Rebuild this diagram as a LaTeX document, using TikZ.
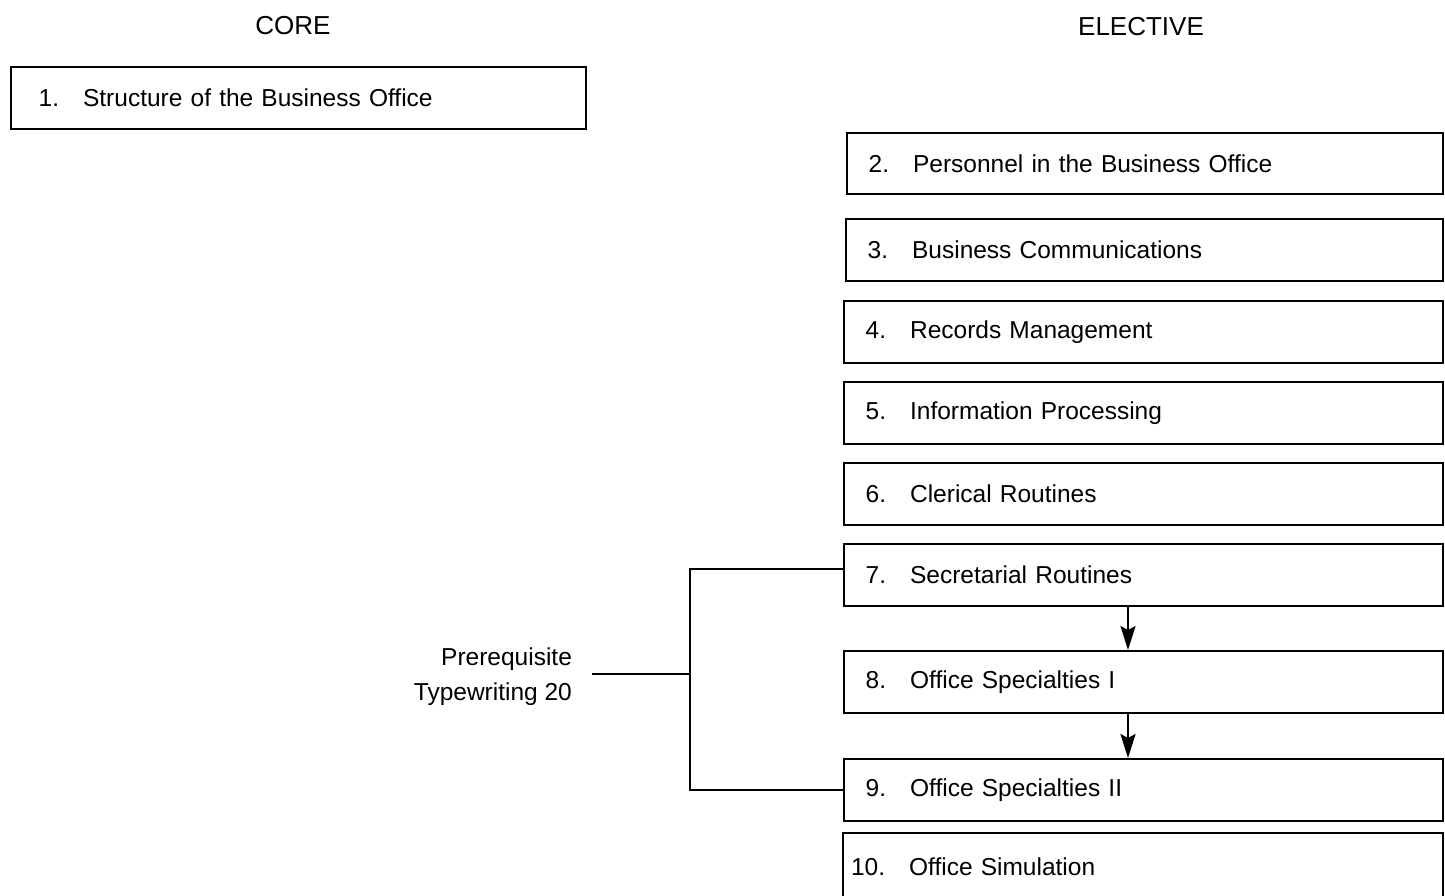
\documentclass[tikz,border=0pt]{standalone}
\usepackage{fontspec}
\setmainfont{Liberation Sans}
\usetikzlibrary{arrows.meta}

% number right-aligned in a fixed field, then the course title
\newcommand{\course}[2]{\makebox[32pt][r]{#1.}\hspace{24pt}#2}

\begin{document}
\begin{tikzpicture}[x=1pt,y=1pt,
  line width=2.2pt,
  heading/.style={font=\fontsize{26}{30}\selectfont, inner sep=0pt},
  unitbox/.style={draw, rectangle, anchor=north west, inner xsep=10pt, inner ysep=0pt,
    font=\fontsize{24.5}{29}\selectfont, align=left, line width=2.2pt},
  flowarrow/.style={-{Stealth[length=24pt,width=15pt,inset=4pt]}, line width=2.4pt},
  prereqtext/.style={font=\fontsize{24.5}{35}\selectfont, align=right, inner sep=0pt, anchor=east}
]
\useasboundingbox (0,0) rectangle (1445,-895);
\clip (0,0) rectangle (1445,-895);
\fill[white] (0,0) rectangle (1445,-895);

% column headings
\node[heading] (core) at (293,-26) {CORE};
\node[heading] (elective) at (1141,-27) {ELECTIVE};

% core unit
\node[unitbox, minimum width=575pt, minimum height=62pt, text width=555pt] (u1) at (10,-66)
  {\hspace{6pt}\course{1}{Structure of the Business Office}};

% elective units
\node[unitbox, minimum width=596pt, minimum height=61pt, text width=576pt] (u2) at (846,-132)
  {\course{2}{Personnel in the Business Office}};
\node[unitbox, minimum width=597pt, minimum height=62pt, text width=577pt] (u3) at (845,-218)
  {\course{3}{Business Communications}};
\node[unitbox, minimum width=599pt, minimum height=62pt, text width=579pt] (u4) at (843,-300)
  {\course{4}{Records Management}};
\node[unitbox, minimum width=599pt, minimum height=62pt, text width=579pt] (u5) at (843,-381)
  {\course{5}{Information Processing}};
\node[unitbox, minimum width=599pt, minimum height=62pt, text width=579pt] (u6) at (843,-462)
  {\course{6}{Clerical Routines}};
\node[unitbox, minimum width=599pt, minimum height=62pt, text width=579pt] (u7) at (843,-543)
  {\course{7}{Secretarial Routines}};
\node[unitbox, minimum width=599pt, minimum height=62pt, text width=579pt] (u8) at (843,-650)
  {\course{8}{Office Specialties I}};
\node[unitbox, minimum width=599pt, minimum height=62pt, text width=579pt] (u9) at (843,-758)
  {\course{9}{Office Specialties II}};
\node[unitbox, minimum width=600pt, minimum height=72pt, text width=580pt] (u10) at (842,-832)
  {\raisebox{4pt}{\course{10}{Office Simulation}}};

% sequence arrows
\draw[flowarrow] (u7.south -| 1128,0) -- (u8.north -| 1128,0);
\draw[flowarrow] (u8.south -| 1128,0) -- (u9.north -| 1128,0);

% prerequisite bracket
\node[prereqtext] (prereq) at (573,-677) {Prerequisite\\Typewriting 20};
\coordinate (jn) at (690,-674);
\draw[shorten <=19pt] (prereq.east |- jn) -- (jn);
\draw ([yshift=6pt]u7.west) -| (jn) |- (u9.west);
\end{tikzpicture}
\end{document}
